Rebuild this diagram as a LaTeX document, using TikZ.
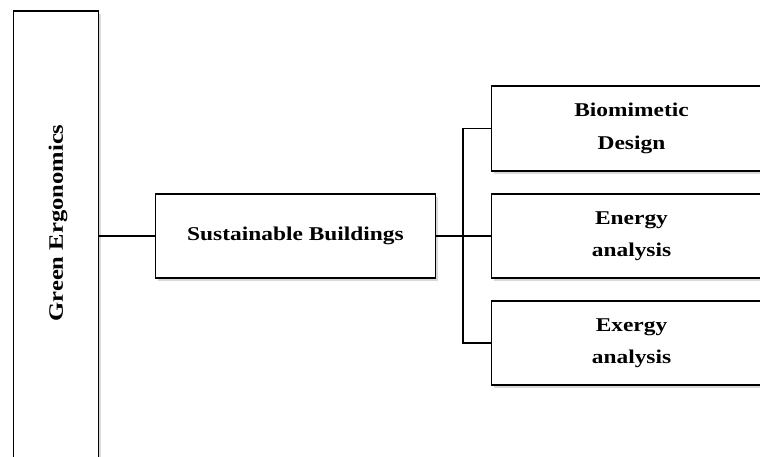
\documentclass[tikz,border=0pt]{standalone}
\usepackage{fontspec}
\setmainfont{Liberation Serif}[FakeStretch=1.2]
\usetikzlibrary{shadows}
\begin{document}
\begin{tikzpicture}[x=1pt,y=-1pt,
  box/.style={draw=black, line width=1.5pt, fill=white, inner sep=0pt,
    drop shadow={shadow xshift=2pt, shadow yshift=-3pt, opacity=0.3},
    font=\fontsize{19.5}{32.5}\selectfont\bfseries, align=center},
  lbl/.style={font=\fontsize{20.5}{32}\selectfont\bfseries, inner sep=0pt},
  conn/.style={line width=1.4pt}]
\useasboundingbox (0,0) rectangle (760,457);
\clip (0,0) rectangle (760,457);
\node[box, minimum width=85pt, minimum height=469pt] (ge) at (56,245.5) {};
\node[lbl, rotate=90] (getext) at (58,223) {Green Ergonomics};
\node[box, minimum width=280pt, minimum height=84pt] (sb) at (295.5,236) {Sustainable Buildings};
\node[box, minimum width=280pt, minimum height=85pt] (bd) at (631.5,128.5) {Biomimetic\\Design};
\node[box, minimum width=280pt, minimum height=84pt] (ea) at (631.5,236) {Energy\\analysis};
\node[box, minimum width=280pt, minimum height=84pt] (ex) at (631.5,343) {Exergy\\analysis};
\coordinate (jx) at (463,236);
\draw[conn] (ge.east |- sb.west) -- (sb.west);
\draw[conn] (sb.east) -- (ea.west);
\draw[conn] (bd.west) -- (bd.west -| jx) -- (ex.west -| jx) -- (ex.west);
\end{tikzpicture}
\end{document}
